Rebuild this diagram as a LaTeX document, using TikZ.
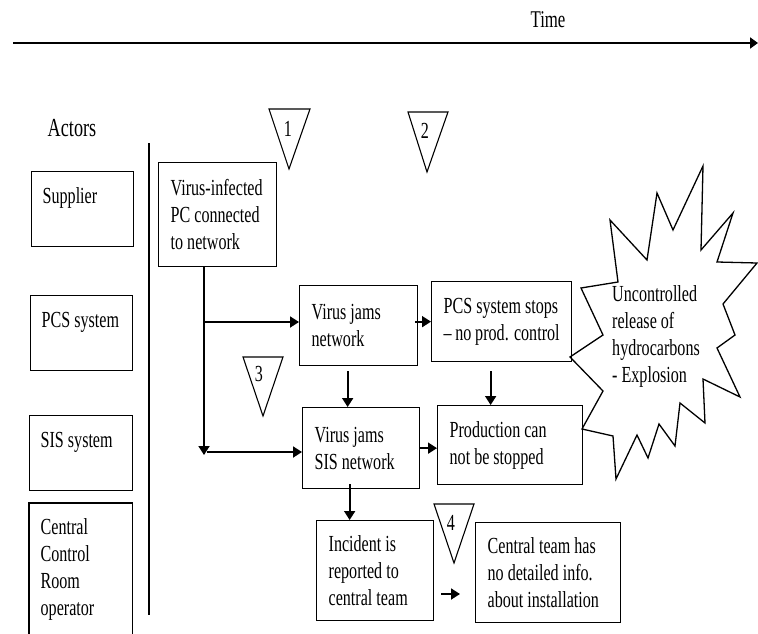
\documentclass[tikz,border=0pt]{standalone}
\usepackage{fontspec}
\setmainfont{Liberation Serif}[FakeStretch=0.7]
\usetikzlibrary{arrows.meta}
\hyphenpenalty=10000
\exhyphenpenalty=10000
\begin{document}
\begin{tikzpicture}[x=1pt,y=-1pt,
  txt/.style={font=\fontsize{23}{27}\selectfont},
  box/.style={txt, draw, line width=1.3pt, align=flush left, inner xsep=12pt, inner ysep=0pt, anchor=north west},
  actor/.style={box, inner xsep=11pt},
  conn/.style={line width=1.8pt, -{Triangle[length=9pt,width=11pt]}},
  tri/.style={line width=1.1pt},
  num/.style={txt, inner sep=0pt}]
\useasboundingbox (0,0) rectangle (758,634);

% time axis
\coordinate (tl) at (13,43);
\coordinate (tr) at (758,43);
\draw[line width=2.6pt, -{Triangle[length=8pt,width=11pt]}] (tl) -- (tr);
\node[font=\fontsize{24}{28}\selectfont] (time) at (548,20) {Time};

% actors
\node[font=\fontsize{26}{30}\selectfont] (actors) at (72,128) {Actors};
\node[actor, minimum width=102pt, minimum height=75pt, text width=80pt] (sup) at (31,171) {Supplier\\\mbox{}};
\node[actor, minimum width=102pt, minimum height=75pt, text width=80pt] (pcsa) at (30,295) {PCS system\\\mbox{}};
\node[actor, minimum width=103pt, minimum height=75pt, text width=81pt] (sisa) at (29,415) {SIS system\\\mbox{}};
\node[actor, draw=none, minimum width=102pt, minimum height=131pt, text width=80pt] (ccr) at (29,503) {Central\\Control\\Room\\operator};
\draw[line width=1.3pt] ([yshift=-20pt]ccr.south west) -- (ccr.north west) -- (ccr.north east) -- ([yshift=-20pt]ccr.south east);

% separator
\coordinate (sept) at (149,143);
\coordinate (sepb) at (149,615);
\draw[line width=1.2pt] (sept) -- (sepb);

% event boxes
\node[box, minimum width=118pt, minimum height=104pt, text width=94pt] (b1) at (158,162) {Virus-infected\\PC connected\\to network};
\node[box, minimum width=118pt, minimum height=80pt, text width=94pt] (vjn) at (299,285) {Virus jams\\network};
\node[box, minimum width=140pt, minimum height=80pt, text width=116pt] (pcs) at (431,281) {PCS system stops\\-- no prod. control};
\node[box, minimum width=117pt, minimum height=81pt, text width=93pt] (vjsis) at (302,407) {Virus jams\\SIS network};
\node[box, minimum width=145pt, minimum height=79pt, text width=121pt] (prod) at (437,405) {Production can\\not be stopped};
\node[box, minimum width=117pt, minimum height=100pt, text width=93pt] (inc) at (316,520) {Incident is\\reported to\\central team};
\node[box, minimum width=145pt, minimum height=100pt, text width=121pt] (cen) at (475,522) {Central team has\\no detailed info.\\about installation};

% explosion
\draw[line width=1.3pt] (581,288) -- (618,282) -- (610,220) -- (647,260) -- (657,193) -- (673,230) -- (703,166) -- (701,250) -- (733,213) -- (717,262) -- (757,263) -- (723,304) -- (735,335) -- (717,348) -- (740,397) -- (703,379) -- (705,423) -- (680,403) -- (675,446) -- (659,424) -- (648,458) -- (637,435) -- (616,479) -- (613,436) -- (582,429) -- (603,391) -- (570,357) -- (603,335) -- cycle;
\node[txt, align=flush left, anchor=west, inner sep=0pt] (expl) at (612,336) {Uncontrolled\\release of\\hydrocarbons\\- Explosion};

% triangles
\draw[tri] (269,109) -- (310,109) -- (289,169) -- cycle;
\node[num] (n1) at (288,129) {1};
\draw[tri] (408,112) -- (448,112) -- (427,172) -- cycle;
\node[num] (n2) at (425,131) {2};
\draw[tri] (243,357) -- (283,357) -- (263,416) -- cycle;
\node[num] (n3) at (259,374) {3};
\draw[tri] (434,504) -- (474,504) -- (454,563) -- cycle;
\node[num] (n4) at (451,523) {4};

% connectors
\coordinate (trunk) at (204,455);
\coordinate (br1) at (204,322);
\coordinate (br2) at (207,452);
\draw[conn] (b1.south -| trunk) -- (trunk);
\draw[conn] (br1) -- (vjn.west |- br1);
\draw[conn] (br2) -- (vjsis.west |- br2);
\draw[conn] ([xshift=-3pt]vjn.east |- pcs.west) -- (pcs.west);
\draw[conn, shorten <=5pt] ([xshift=-11pt]vjn.south) -- ([xshift=-11pt]vjn.south |- vjsis.north);
\draw[conn, shorten <=9pt] ([xshift=-11pt]pcs.south) -- ([xshift=-11pt]pcs.south |- prod.north);
\draw[conn] ([xshift=-1pt]vjsis.east) -- (vjsis.east -| prod.west);
\draw[conn] ([xshift=-11.5pt,yshift=5pt]vjsis.south) -- ([xshift=-11.5pt]vjsis.south |- inc.north);
\coordinate (a4s) at (441,594);
\coordinate (a4e) at (460,594);
\draw[conn] (a4s) -- (a4e);
\end{tikzpicture}
\end{document}
